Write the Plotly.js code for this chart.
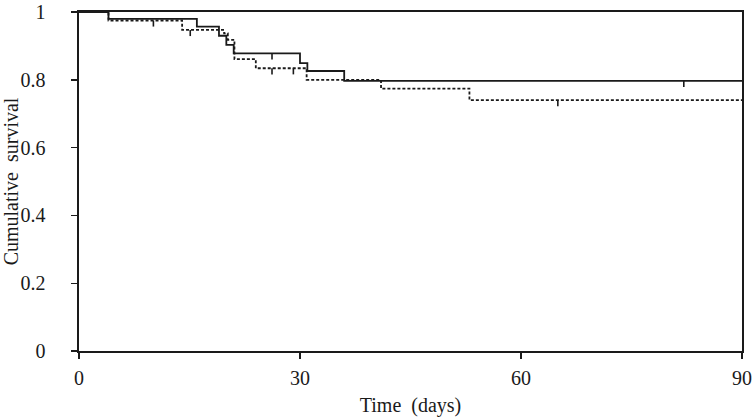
<!DOCTYPE html>
<html>
<head>
<meta charset="utf-8">
<script src="https://cdn.plot.ly/plotly-3.0.1.min.js"></script>
<style>html,body{margin:0;padding:0;background:#fff;}#chart{width:755px;height:417px;}</style>
</head>
<body>
<div id="chart"></div>
<script>
// Group A (solid line): step times (days) and cumulative survival
const solidTimes = [0, 4, 16, 19, 20, 21, 30, 31, 36, 90];
const solidSurv  = [1, 0.98, 0.957, 0.93, 0.903, 0.878, 0.849, 0.826, 0.797, 0.797];
const solidCensTimes = [26.2, 82.1];
const solidCensSurv  = [0.878, 0.797];

// Group B (dashed line)
const dashTimes = [0, 4, 14, 19.7, 20.2, 21.1, 24, 30.9, 41, 53, 90];
const dashSurv  = [1, 0.975, 0.947, 0.937, 0.918, 0.861, 0.834, 0.800, 0.774, 0.740, 0.740];
const dashCensTimes = [10.1, 15.1, 26.2, 29.1, 65.0];
const dashCensSurv  = [0.975, 0.947, 0.834, 0.834, 0.740];

const xTicks = [0, 30, 60, 90];
const yTicks = [0, 0.2, 0.4, 0.6, 0.8, 1];

const FONT = 'Liberation Serif, Times New Roman, serif';
const INK = '#1a1a1a';
const censLen = 0.018;

function censorTrace(xs, ys) {
  return {
    x: xs, y: ys, type: 'scatter', mode: 'markers',
    marker: {size: 0.1, color: 'rgba(0,0,0,0)'},
    error_y: {type: 'data', symmetric: false, array: xs.map(() => 0),
              arrayminus: xs.map(() => censLen), width: 0, thickness: 1.6, color: INK},
    hoverinfo: 'skip', showlegend: false, cliponaxis: false
  };
}

const data = [
  {x: solidTimes, y: solidSurv, type: 'scatter', mode: 'lines',
   line: {shape: 'hv', color: INK, width: 1.8}, showlegend: false, cliponaxis: false},
  {x: dashTimes, y: dashSurv, type: 'scatter', mode: 'lines',
   line: {shape: 'hv', color: INK, width: 1.8, dash: '3px,2px'}, showlegend: false, cliponaxis: false},
  censorTrace(solidCensTimes, solidCensSurv),
  censorTrace(dashCensTimes, dashCensSurv)
];

const layout = {
  width: 755, height: 417,
  margin: {l: 79, r: 13, t: 12, b: 66},
  paper_bgcolor: '#fff', plot_bgcolor: '#fff',
  font: {family: FONT, color: INK, size: 20},
  xaxis: {
    range: [0, 90], tickvals: xTicks, ticktext: xTicks.map(String),
    showgrid: false, zeroline: false, showline: true, mirror: true,
    linecolor: INK, linewidth: 1.6, ticks: 'outside', ticklen: 6, tickwidth: 1.4, tickcolor: INK,
    tickfont: {family: FONT, size: 20, color: INK}, ticklabelstandoff: 2, ticklabeloverflow: 'allow',
    title: {text: 'Time\u00A0\u00A0(days)', font: {family: FONT, size: 20, color: INK}, standoff: 12}
  },
  yaxis: {
    range: [0, 1], tickvals: yTicks, ticktext: yTicks.map(String),
    showgrid: false, zeroline: false, showline: true, mirror: true,
    linecolor: INK, linewidth: 1.6, ticks: 'outside', ticklen: 6, tickwidth: 1.4, tickcolor: INK,
    tickfont: {family: FONT, size: 20, color: INK}, ticklabelstandoff: 22, ticklabeloverflow: 'allow',
    title: {text: 'Cumulative\u00A0\u00A0survival', font: {family: FONT, size: 20, color: INK}, standoff: 4}
  }
};

Plotly.newPlot('chart', data, layout, {staticPlot: true, displayModeBar: false});
</script>
</body>
</html>
